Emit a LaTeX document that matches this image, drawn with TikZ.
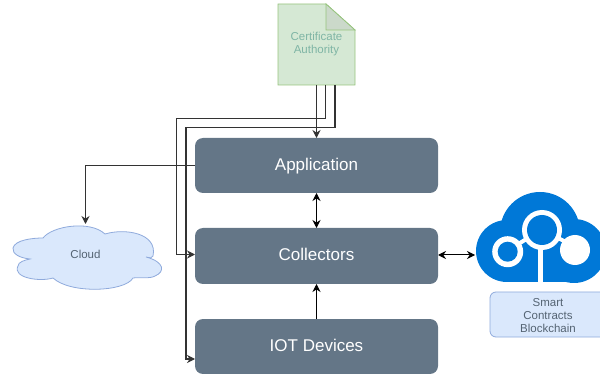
\documentclass[tikz,border=0pt]{standalone}
\usepackage{fontspec}
\setmainfont{Liberation Sans}
\usetikzlibrary{arrows.meta}
\definecolor{slate}{HTML}{647687}
\definecolor{ltblue}{HTML}{DAE8FC}
\definecolor{edgeblue}{HTML}{8FAADC}
\definecolor{ltgreen}{HTML}{D5E8D4}
\definecolor{edgegreen}{HTML}{97C47E}
\definecolor{foldgreen}{HTML}{CBD9CA}
\definecolor{azure}{HTML}{0078D7}
\definecolor{catext}{HTML}{7FB5A5}
\tikzset{
  every node/.style={inner sep=0pt,outer sep=0pt},
  bigbox/.style={draw=none,fill=slate,rounded corners=8pt,minimum width=243pt,minimum height=55pt},
  boxtext/.style={text=white,font=\fontsize{17}{20}\selectfont},
  conn/.style={draw=black,line width=1pt,-{Stealth[length=8pt,width=8pt]}},
  conntwo/.style={draw=black,line width=1pt,{Stealth[length=8pt,width=8pt]}-{Stealth[length=8pt,width=8pt]}},
  greyconn/.style={draw=black!80,line width=1.1pt,-{Stealth[length=8pt,width=8pt]}},
  smalltext/.style={text=slate!85!black,align=center}
}
\begin{document}
\begin{tikzpicture}[x=1pt,y=-1pt]
\useasboundingbox (0,0) rectangle (600,374);
\clip (0,0) rectangle (600,374);
% boxes
\node[bigbox] (app) at (316.5,165.5) {};
\node[boxtext] (applab) at (316.5,165.7) {Application};
\node[bigbox,minimum height=56pt] (col) at (316.5,256) {};
\node[boxtext] (collab) at (316.5,254.5) {Collectors};
\node[bigbox] (iot) at (316.5,346.5) {};
\node[boxtext] (iotlab) at (316.5,345) {IOT Devices};
% document
\draw[draw=edgegreen,fill=ltgreen,line width=0.8pt] (278,4) -- (326,4) -- (355,30) -- (355,85) -- (278,85) -- cycle;
\draw[draw=edgegreen,fill=foldgreen,line width=0.8pt] (326,4) -- (355,30) -- (326,30) -- cycle;
\coordinate (docb) at (316.5,85);
\node[font=\fontsize{11.5}{13.5}\selectfont,text=catext,align=center] (ca) at (316.5,44) {Certificate\\Authority};
% cloud
\draw[draw=edgeblue,fill=ltblue,line width=0.8pt] (43,238)
  .. controls (52,226) and (90,220) .. (105,234)
  .. controls (125,228) and (158,233) .. (153,256)
  .. controls (150,260) and (148,256) .. (146,257)
  .. controls (165,262) and (165,272) .. (155,276)
  .. controls (150,279) and (140,277) .. (133,278)
  .. controls (125,292) and (70,294) .. (53,278)
  .. controls (40,282) and (12,278) .. (18,266)
  .. controls (18,262) and (25,260) .. (30,259)
  .. controls (20,258) and (12,254) .. (13,248)
  .. controls (15,240) and (32,238) .. (43,238) -- cycle;
\node[smalltext,font=\fontsize{11.5}{13}\selectfont] (cloudlab) at (85.5,254.5) {Cloud};
\coordinate (cloudtop) at (85.5,224);
% smart contracts
\node[draw=edgeblue,fill=ltblue,rounded corners=6pt,line width=0.8pt,minimum width=130pt,minimum height=45pt,anchor=west] (sc) at (490,314.5) {};
\node[smalltext,font=\fontsize{11.5}{13}\selectfont] (sclab) at (548,316) {Smart\\Contracts\\Blockchain};
% blockchain cloud icon
\fill[azure] (540,232) circle (40);
\fill[azure] (507,251) circle (31);
\fill[azure] (574,251) circle (32);
\fill[azure] (510,240) rectangle (575,282);
\draw[white,line width=5pt] (540,240) -- (540,290);
\fill[white] (507.7,251.7) circle (15.5);
\fill[azure] (507.7,251.7) circle (10);
\draw[white,line width=4pt] (520,243) -- (528,238);
\fill[white] (542,230) circle (20);
\fill[azure] (542,230) circle (15);
\draw[white,line width=4pt] (558,238) -- (568,243);
\fill[white] (575,250) circle (15);
\coordinate (iconl) at (475,255);
% connectors
\draw[greyconn] (docb) -- (app.north);
\draw[greyconn] (325.7,85) -- (325.7,118.5) -- (176.5,118.5) -- (176.5,254.5) -- (col.west |- 0,254.5);
\draw[greyconn] (335,85) -- (335,127.5) -- (186,127.5) -- (186,359) -- (iot.west |- 0,359);
\draw[greyconn] (app.west) -- (85.5,165.5) -- (cloudtop);
\draw[conntwo] (app.south) -- (col.north);
\draw[conn] (iot.north) -- (col.south);
\draw[conntwo] (col.east |- iconl) -- (iconl);
\end{tikzpicture}
\end{document}
